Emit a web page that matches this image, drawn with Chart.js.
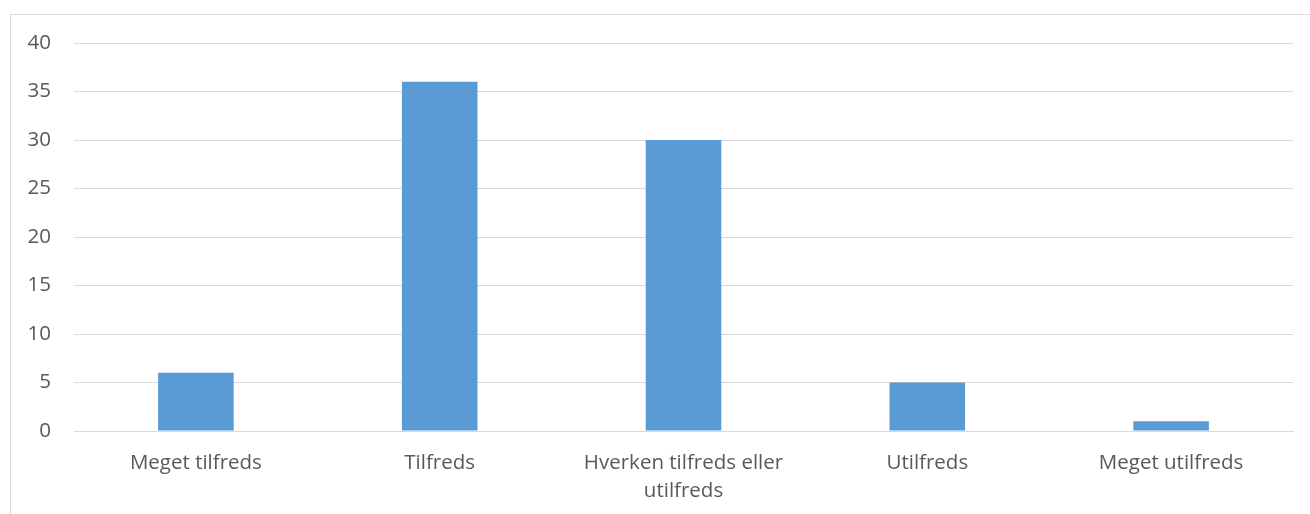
<!DOCTYPE html>
<html lang="da">
<head>
  <meta charset="UTF-8">
  <title>Tilfredshed</title>
  <style>
    html, body { margin: 0; padding: 0; background: #fff; }
    #frame {
      position: absolute; left: 10px; top: 14px; width: 1320px; height: 520px;
      border-left: 1px solid #d9d9d9; border-top: 1px solid #d9d9d9;
    }
    #wrap { position: absolute; left: 0; top: 0; width: 1310px; height: 514px; }
  </style>
</head>
<body>
  <div id="frame"></div>
  <div id="wrap"><canvas id="chart"></canvas></div>
  <script src="https://cdn.jsdelivr.net/npm/chart.js@4/dist/chart.umd.min.js"></script>
  <script>
    const categories = ['Meget tilfreds', 'Tilfreds', ['Hverken tilfreds eller', 'utilfreds'], 'Utilfreds', 'Meget utilfreds']
    const values = [6, 36, 30, 5, 1]
    const yTicks = [0, 5, 10, 15, 20, 25, 30, 35, 40]

    const ctx = document.getElementById('chart').getContext('2d')
    const font = { family: '"Open Sans", sans-serif', size: 20.5 }

    new Chart(ctx, {
      type: 'bar',
      data: {
        labels: categories,
        datasets: [{
          data: values,
          backgroundColor: '#5b9bd5',
          barPercentage: 0.31,
          categoryPercentage: 1
        }]
      },
      options: {
        responsive: true,
        maintainAspectRatio: false,
        animation: false,
        layout: { padding: { top: 43, right: 17, bottom: 0, left: 0 } },
        plugins: { legend: { display: false }, tooltip: { enabled: false } },
        scales: {
          x: {
            grid: { display: false, drawTicks: false },
            border: { color: '#d9d9d9', width: 1 },
            ticks: { color: '#595959', font: { ...font, lineHeight: '28px' }, padding: 18, maxRotation: 0, autoSkip: false },
            afterFit: s => { s.height = 83 }
          },
          y: {
            min: 0,
            max: 40,
            afterBuildTicks: s => { s.ticks = yTicks.map(v => ({ value: v })) },
            grid: { color: '#d9d9d9', drawTicks: false },
            border: { display: false },
            ticks: { color: '#595959', font, padding: 23 },
            afterFit: s => { s.width = 74 }
          }
        }
      }
    })
  </script>
</body>
</html>
